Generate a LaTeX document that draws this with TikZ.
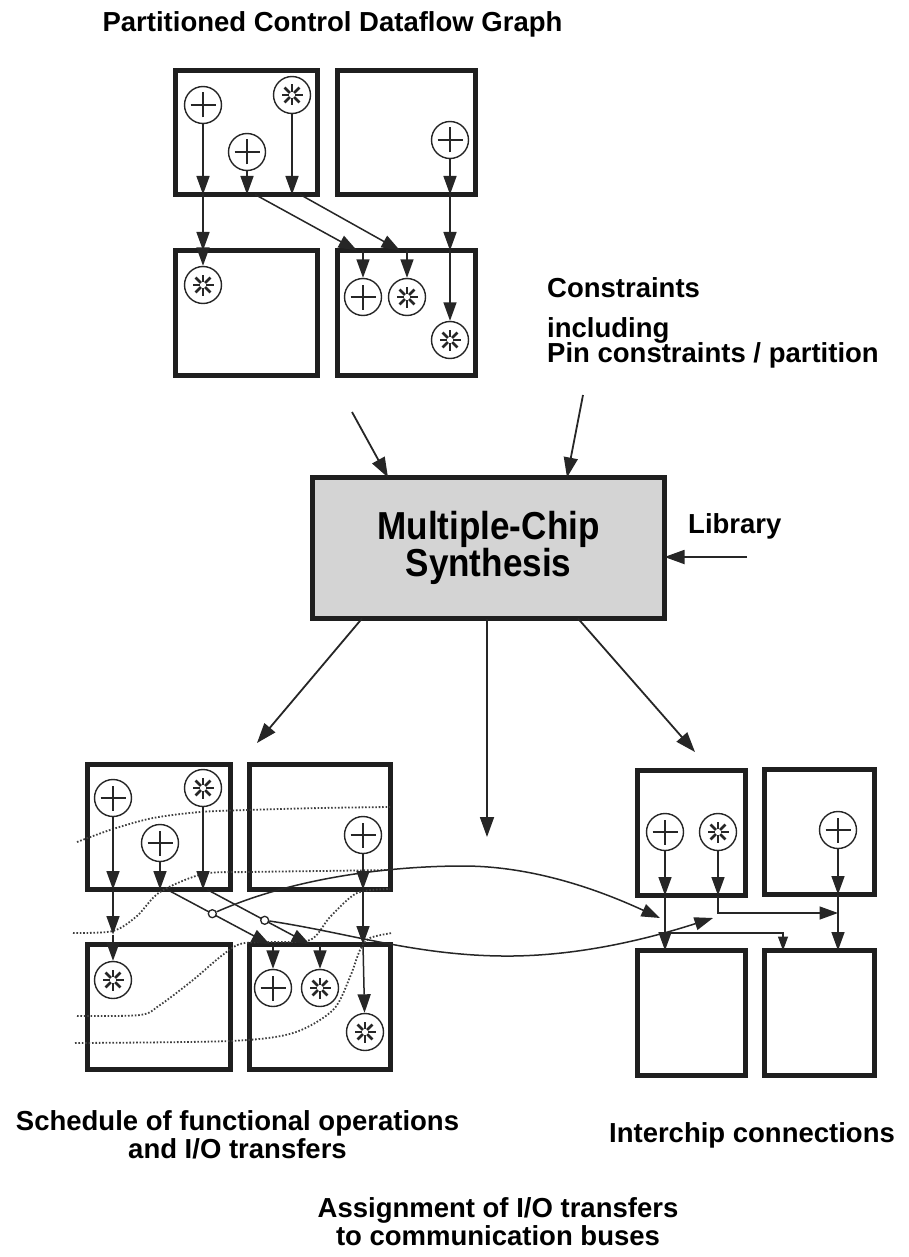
\documentclass[tikz,border=0pt]{standalone}
\usepackage{fontspec}
\setmainfont{Liberation Sans}
\newfontfamily\boxsans[FakeStretch=0.9]{Liberation Sans}
\usetikzlibrary{arrows.meta,calc}

\begin{document}
\begin{tikzpicture}[x=1pt,y=-1pt,
  chip/.style={draw=black!88, line width=5pt, rectangle, inner sep=0pt, outer sep=0pt},
  opnode/.style={draw=black!85, circle, line width=1.4pt, minimum size=37pt, inner sep=0pt, fill=white},
  plusop/.style={opnode, path picture={
      \draw[line width=2.2pt, black!85]
        ([xshift=-12.5pt]path picture bounding box.center) -- ([xshift=12.5pt]path picture bounding box.center)
        ([yshift=-12.5pt]path picture bounding box.center) -- ([yshift=12.5pt]path picture bounding box.center);}},
  starop/.style={opnode, path picture={
      \foreach \a in {0,45,...,315}
        \draw[line width=2.6pt, black!85]
          ([shift={(\a:3pt)}]path picture bounding box.center) -- ([shift={(\a:10.5pt)}]path picture bounding box.center);}},
  flow/.style={draw=black!85, line width=1.5pt, -{Triangle[length=18.5pt,width=13pt]}},
  bigflow/.style={draw=black!85, line width=1.8pt, -{Triangle[length=20pt,width=14pt]}},
  smallflow/.style={draw=black!85, line width=1.3pt, -{Triangle[length=14pt,width=10pt]}},
  tap/.style={circle, draw=black!85, fill=white, line width=1.3pt, minimum size=8pt, inner sep=0pt},
  sched/.style={draw=black!75, line width=1.8pt, dash pattern=on 1.6pt off 1.8pt},
  label/.style={inner sep=0pt, font=\fontsize{27.5pt}{30pt}\selectfont\bfseries},
]
\fill[white] (0,0) rectangle (909,1257);
\useasboundingbox (0,0) rectangle (909,1257);

% ---------- partitioned graph (top) ----------
\node[label, anchor=base] (title) at (332.5,32) {Partitioned Control Dataflow Graph};

\node[chip, minimum width=142pt, minimum height=124pt] (ta) at (246.5,132.5) {};
\node[chip, minimum width=138pt, minimum height=124pt] (tb) at (406.5,132.5) {};
\node[chip, minimum width=142pt, minimum height=125pt] (tc) at (246.5,313) {};
\node[chip, minimum width=138pt, minimum height=125pt] (td) at (406.5,313) {};

\node[plusop] (p1) at (203,105) {};
\node[starop] (s1) at (292,95) {};
\node[plusop] (p2) at (247,152) {};
\node[plusop] (p3) at (450,140) {};
\node[starop] (s2) at (203,285) {};
\node[plusop] (p4) at (363,297) {};
\node[starop] (s3) at (407,297) {};
\node[starop] (s4) at (450,340) {};

\draw[flow] (p1) -- (p1 |- ta.south);
\draw[flow] (p1 |- ta.south) -- (p1 |- tc.north);
\draw[flow] (p1 |- tc.north) -- (s2);
\draw[flow] (p2) -- (p2 |- ta.south);
\draw[flow] ([xshift=8pt]p2 |- ta.south) -- ([xshift=-6pt]p4 |- td.north);
\draw[flow] (p4 |- td.north) -- (p4);
\draw[flow] (s1) -- (s1 |- ta.south);
\draw[flow] ([xshift=8pt]s1 |- ta.south) -- ([xshift=-7pt]s3 |- td.north);
\draw[flow] (s3 |- td.north) -- (s3);
\draw[flow] (p3) -- (p3 |- tb.south);
\draw[flow] (p3 |- tb.south) -- (p3 |- td.north);
\draw[flow] (p3 |- td.north) -- (s4);

% ---------- inputs ----------
\node[label, anchor=base west] (cons1) at (547,297) {Constraints};
\node[label, anchor=base west] (cons2) at (547,337) {including};
\node[label, anchor=base west] (cons3) at (547,362) {Pin constraints / partition};
\node[label, anchor=base west] (lib) at (688,533) {Library};

\node[chip, fill=black!17, minimum width=352pt, minimum height=141pt, align=center,
      font=\boxsans\fontsize{39pt}{32pt}\selectfont\bfseries] (ms) at (488.5,548) {Multiple-Chip\\Synthesis};

\coordinate (cA) at (352,412);
\coordinate (cB) at (583,395);
\coordinate (cL) at (747,557);
\draw[bigflow] (cA) -- ([xshift=-100.5pt]ms.north);
\draw[bigflow] (cB) -- ([xshift=78.5pt]ms.north);
\draw[bigflow] (cL) -- ([yshift=-9pt]ms.east);

% ---------- outputs ----------
\coordinate (oL) at (257,743);
\coordinate (oM) at (487,837);
\coordinate (oR) at (695,752);
\draw[bigflow] ([xshift=-126.5pt]ms.south) -- (oL);
\draw[bigflow] ([xshift=-1.5pt]ms.south) -- (oM);
\draw[bigflow] ([xshift=89.5pt]ms.south) -- (oR);

% ---------- schedule (bottom left) ----------
\node[chip, minimum width=143pt, minimum height=125pt] (ba) at (159,827) {};
\node[chip, minimum width=141pt, minimum height=125pt] (bb) at (320,827) {};
\node[chip, minimum width=143pt, minimum height=125pt] (bc) at (159,1007) {};
\node[chip, minimum width=141pt, minimum height=125pt] (bd) at (320,1007) {};

\node[plusop] (q1) at (113,798) {};
\node[starop] (t1) at (203,788) {};
\node[plusop] (q2) at (160,843) {};
\node[plusop] (q3) at (363,835) {};
\node[starop] (t2) at (113,980) {};
\node[plusop] (q4) at (273,988) {};
\node[starop] (t3) at (320,988) {};
\node[starop] (t4) at (365,1032) {};

% time-step boundaries
\draw[sched] plot[smooth] coordinates {(77,842) (113,829) (153,818) (200,812) (247,810) (320,808) (390,807)};
\draw[sched] plot[smooth] coordinates {(73,933) (113,931) (137,916) (160,892) (203,874) (250,872) (320,871) (390,870)};
\draw[sched] plot[smooth] coordinates {(77,1016) (140,1015) (160,1005) (193,980) (220,957) (240,944) (267,942) (310,940) (330,917) (357,893) (390,889)};
\draw[sched] plot[smooth] coordinates {(75,1043) (230,1041) (293,1033) (333,1010) (350,977) (360,950) (370,938) (392,933)};

\draw[flow] (q1) -- (q1 |- ba.south);
\coordinate (q1m) at ([yshift=10pt]q1 |- bc.north);
\draw[flow] (q1 |- ba.south) -- (q1m);
\draw[flow] (q1m) -- (t2);

\coordinate (d1a) at ([xshift=7pt]q2 |- ba.south);
\coordinate (d1b) at ([xshift=-3pt]q4 |- bd.north);
\coordinate (d2a) at ([xshift=4pt]t1 |- ba.south);
\coordinate (d2b) at ([xshift=-10pt]t3 |- bd.north);
\draw[flow] (q2) -- (q2 |- ba.south);
\draw[flow] (d1a) -- (d1b);
\draw[flow] (q4 |- bd.north) -- (q4);
\draw[flow] (t1) -- (t1 |- ba.south);
\draw[flow] (d2a) -- (d2b);
\draw[flow] (t3 |- bd.north) -- (t3);
\draw[flow] (q3) -- (q3 |- bb.south);
\draw[flow] (q3 |- bb.south) -- (q3 |- bd.north);
\draw[flow] (q3 |- bd.north) -- (t4);

% bus taps towards the interchip connections
\node[tap] (c1) at ($(d1a)!0.44!(d1b)$) {};
\node[tap] (c2) at ($(d2a)!0.56!(d2b)$) {};
\coordinate (ue) at (660,918);
\coordinate (le) at (713,918);
\draw[flow] (c1) .. controls (300,875) and (400,866) .. (463,866) .. controls (540,866) and (610,895) .. (ue);
\draw[flow] (c2) .. controls (350,933) and (420,957) .. (513,956) .. controls (590,955) and (660,935) .. (le);

% ---------- interchip connections (bottom right) ----------
\node[chip, minimum width=108pt, minimum height=125pt] (ra) at (691.5,833) {};
\node[chip, minimum width=110pt, minimum height=125pt] (rb) at (819.5,832) {};
\node[chip, minimum width=108pt, minimum height=125pt] (rc) at (691.5,1013) {};
\node[chip, minimum width=110pt, minimum height=125pt] (rd) at (819.5,1013) {};

\node[plusop] (r1) at (665,832) {};
\node[starop] (r2) at (718,832) {};
\node[plusop] (r3) at (838,830) {};

\draw[flow] (r1) -- (r1 |- ra.south);
\draw[flow] (r1 |- ra.south) -- (r1 |- rc.north);
\draw[flow] (r2) -- (r2 |- ra.south);
\coordinate (rj) at (718,913);
\draw[flow] (r2 |- ra.south) -- (rj) -- (r3 |- rj);
\draw[flow] (r3) -- (r3 |- rb.south);
\draw[flow] (r3 |- rb.south) -- (r3 |- rd.north);
\coordinate (rk) at (665,933);
\coordinate (rm) at (783,933);
\draw[smallflow] (rk) -- (rm) -- (rm |- rd.north);

% ---------- captions ----------
\node[label, anchor=base] (sch1) at (237.5,1130) {Schedule of functional operations};
\node[label, anchor=base] (sch2) at (237.5,1158) {and I/O transfers};
\node[label, anchor=base] (ic) at (752,1142) {Interchip connections};
\node[label, anchor=base] (as1) at (498,1217) {Assignment of I/O transfers};
\node[label, anchor=base] (as2) at (498,1245) {to communication buses};
\end{tikzpicture}
\end{document}
